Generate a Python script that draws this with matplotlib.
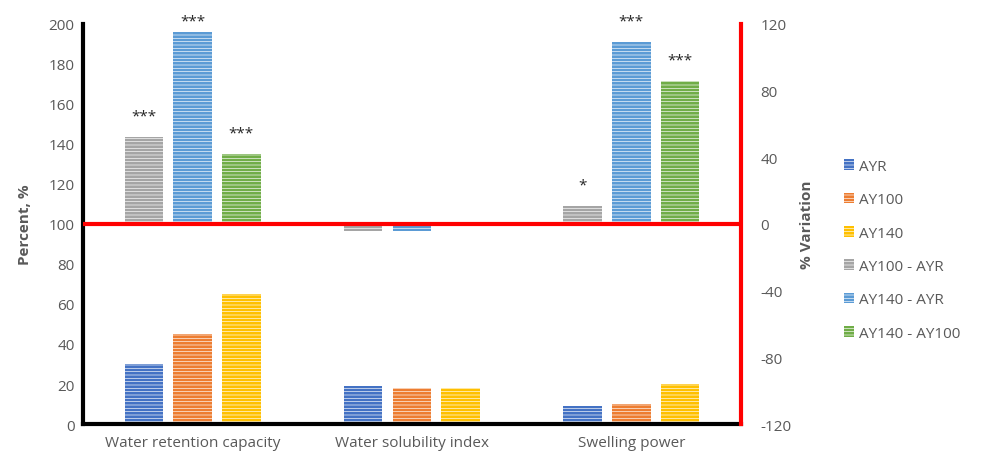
import numpy as np
import matplotlib
matplotlib.use('Agg')
from matplotlib import pyplot as plt
from matplotlib.patches import Patch

plt.rcParams['font.family'] = ['Open Sans', 'DejaVu Sans']
plt.rcParams['hatch.linewidth'] = 0.45
plt.rcParams['axes.unicode_minus'] = False

# data
categories = ['Water retention capacity', 'Water solubility index', 'Swelling power']
samples = ['AYR', 'AY100', 'AY140']
percent = {'AYR': [30, 19, 9],
           'AY100': [45, 18, 10],
           'AY140': [65, 18, 20]}
diffs = ['AY100 - AYR', 'AY140 - AYR', 'AY140 - AY100']
variation = {'AY100 - AYR': [52, -4, 11],
             'AY140 - AYR': [115, -4, 109],
             'AY140 - AY100': [42, 0, 86]}
stars = {'AY100 - AYR': ['***', '', '*'],
         'AY140 - AYR': ['***', '', '***'],
         'AY140 - AY100': ['***', '', '***']}

cols1 = ['#4472C4', '#ED7D31', '#FFC000']
cols2 = ['#A5A5A5', '#5B9BD5', '#70AD47']
grey = '#595959'

x = np.arange(len(categories))
w = 0.175
offs = [-0.222, 0, 0.222]

fig = plt.figure(figsize=(9.88, 4.6), dpi=100)
ax = fig.add_axes([0.084, 0.076, 0.666, 0.870])
ax2 = ax.twinx()

for i, s in enumerate(samples):
    ax.bar(x + offs[i], percent[s], w, color=cols1[i], edgecolor='white',
           hatch='-----', linewidth=0, zorder=2)

for i, d in enumerate(diffs):
    ax2.bar(x + offs[i], variation[d], w, color=cols2[i], edgecolor='white',
            hatch='-----', linewidth=0, zorder=2)
    for j, v in enumerate(variation[d]):
        if stars[d][j]:
            ax2.text(x[j] + offs[i], min(v + 8, 117), stars[d][j], ha='center',
                     va='bottom', fontsize=11, color='#262626')

ax2.axhline(0, color='red', lw=3, zorder=5)

ax.set_xlim(-0.5, 2.5)
ax.set_ylim(0, 200)
ax.set_yticks(range(0, 201, 20))
ax2.set_ylim(-120, 120)
ax2.set_yticks(range(-120, 121, 40))
ax.set_xticks(x)
ax.set_xticklabels(categories)

for a in (ax, ax2):
    a.spines['top'].set_visible(False)
    a.tick_params(length=0, labelsize=11, labelcolor=grey)
ax.spines['left'].set_linewidth(3)
ax.spines['left'].set_color('black')
ax.spines['bottom'].set_linewidth(3)
ax.spines['right'].set_visible(False)
ax2.spines['left'].set_visible(False)
ax2.spines['bottom'].set_visible(False)
ax2.spines['right'].set_color('red')
ax2.spines['right'].set_linewidth(3)
ax.tick_params(axis='x', pad=8)
ax.tick_params(axis='y', pad=6)
ax2.tick_params(axis='y', pad=14)

ax.set_ylabel('Percent, %', fontsize=11, fontweight='bold', color=grey, labelpad=12)
ax2.set_ylabel('% Variation', fontsize=11, fontweight='bold', color=grey, labelpad=6)

handles = [Patch(facecolor=c, edgecolor='white', hatch='-----', linewidth=0) for c in cols1 + cols2]
fig.legend(handles, samples + diffs, loc='center left', bbox_to_anchor=(0.84, 0.455),
           frameon=False, fontsize=11, labelcolor=grey, handlelength=0.7, handleheight=0.7,
           handletextpad=0.3, labelspacing=1.2)

fig.savefig('out.png', dpi=100)
